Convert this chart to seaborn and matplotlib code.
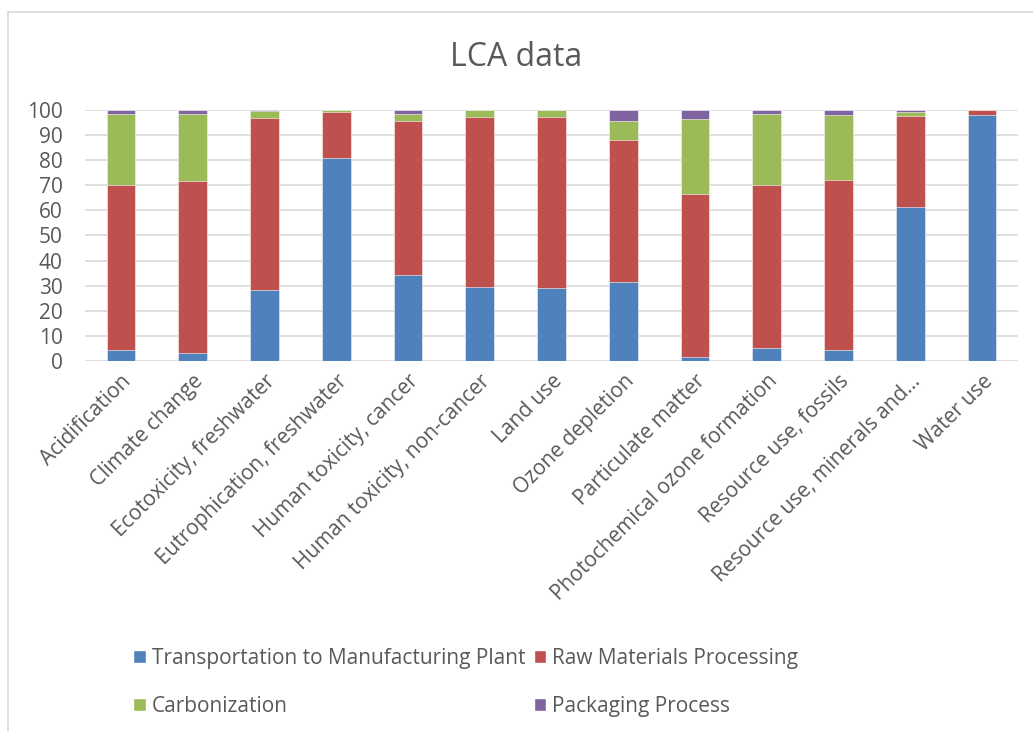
import numpy as np
import pandas as pd
import matplotlib.pyplot as plt
import seaborn as sns
from matplotlib.patches import Patch
from matplotlib.lines import Line2D

# Datos (porcentaje por categoría de impacto)
categorias = [
    'Acidification', 'Climate change', 'Ecotoxicity, freshwater',
    'Eutrophication, freshwater', 'Human toxicity, cancer',
    'Human toxicity, non-cancer', 'Land use', 'Ozone depletion',
    'Particulate matter', 'Photochemical ozone formation',
    'Resource use, fossils', 'Resource use, minerals and...', 'Water use'
]
transporte = [4.3, 3.3, 28.1, 80.8, 34.1, 29.6, 29.0, 31.3, 1.7, 5.3, 4.3, 61.5, 97.9]
materias_primas = [65.9, 68.5, 68.6, 18.3, 61.5, 67.5, 68.3, 56.6, 64.9, 65.0, 68.0, 36.1, 2.1]
carbonizacion = [28.1, 26.7, 2.8, 0.8, 2.7, 2.9, 2.7, 7.6, 29.9, 28.2, 25.6, 1.5, 0.0]
empaquetado = [1.7, 1.5, 0.5, 0.1, 1.7, 0.0, 0.0, 4.5, 3.5, 1.5, 2.1, 0.9, 0.0]

series = ['Transportation to Manufacturing Plant', 'Raw Materials Processing',
          'Carbonization', 'Packaging Process']
colores = ['#4F81BD', '#C0504D', '#9BBB59', '#8064A2']

sns.set_theme(style="white")
plt.rcParams['font.family'] = ['Open Sans', 'DejaVu Sans']
gris = '#595959'

df = pd.DataFrame({
    'cat': categorias,
    series[0]: transporte,
    series[1]: materias_primas,
    series[2]: carbonizacion,
    series[3]: empaquetado,
})

fig = plt.figure(figsize=(10.33, 7.31), dpi=100)
ax = fig.add_axes([85 / 1033, 1 - 361 / 731, 933 / 1033, 251 / 731])

# Barras apiladas: se dibuja el acumulado de arriba hacia abajo
acum = df[series].cumsum(axis=1)
for s, c in zip(series[::-1], colores[::-1]):
    sns.barplot(x=df['cat'], y=acum[s], color=c, width=0.4, ax=ax,
                saturation=1, edgecolor='white', linewidth=0.4)

ax.set_ylim(0, 100)
ax.set_yticks(range(0, 101, 10))
ax.yaxis.grid(True, color='#D9D9D9', linewidth=1.2)
ax.set_axisbelow(True)
for sp in ax.spines.values():
    sp.set_visible(False)
ax.set_xlabel('')
ax.set_ylabel('')
ax.tick_params(axis='y', labelsize=15, labelcolor=gris, pad=16, length=0)
ax.tick_params(axis='x', labelsize=15, labelcolor=gris, pad=7, length=0)
plt.setp(ax.get_xticklabels(), rotation=45, ha='right', rotation_mode='anchor')

fig.text(0.5, 1 - 57 / 731, 'LCA data', ha='center', va='center',
         fontsize=23, color=gris)

# Leyenda en dos filas
handles = [Patch(facecolor=c) for c in colores]
orden = [0, 2, 1, 3]
fig.legend([handles[i] for i in orden], [series[i] for i in orden],
           ncol=2, loc='upper left', bbox_to_anchor=(133 / 1033, 1 - 648 / 731),
           frameon=False, fontsize=15, labelcolor=gris, handlelength=0.6,
           handleheight=0.6, handletextpad=0.3, columnspacing=0.4,
           labelspacing=1.3, borderpad=0, borderaxespad=0)

# Marco del área del gráfico
fig.add_artist(Line2D([8 / 1033, 8 / 1033], [0, 1 - 12 / 731], color='#D9D9D9',
                      linewidth=1.2, transform=fig.transFigure))
fig.add_artist(Line2D([8 / 1033, 1], [1 - 12 / 731, 1 - 12 / 731], color='#D9D9D9',
                      linewidth=1.2, transform=fig.transFigure))

fig.savefig('out.png', dpi=100)
